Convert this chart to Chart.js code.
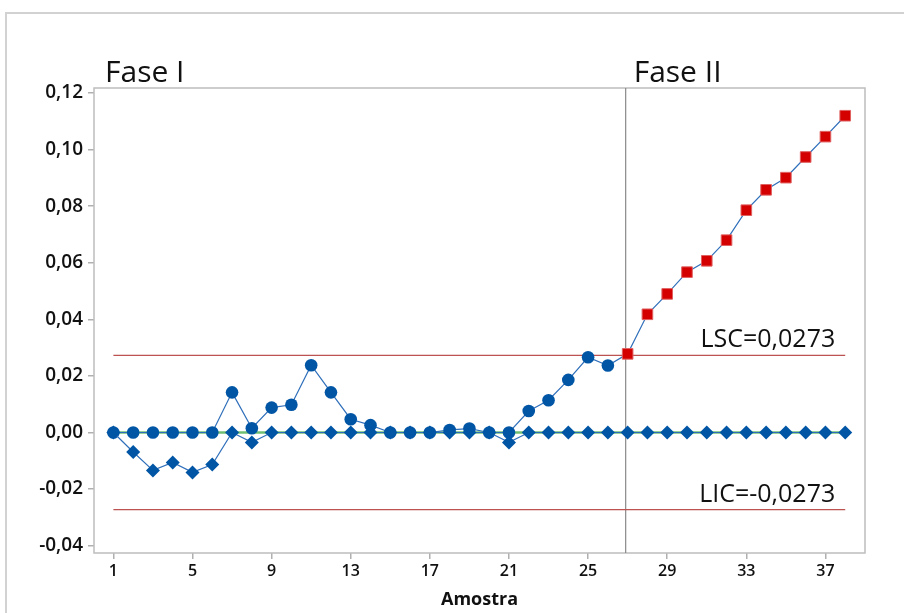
<!DOCTYPE html>
<html>
<head>
<meta charset="utf-8">
<script src="https://cdn.jsdelivr.net/npm/chart.js@4.4.0/dist/chart.umd.min.js"></script>
<style>
    body { margin: 0; background: #fff; }
    #frame { position: absolute; left: 5px; top: 12px; width: 1000px; height: 700px;
             border-left: 2px solid #d2d2d2; border-top: 2px solid #d2d2d2; }
    canvas { position: absolute; left: 0; top: 0; }
</style>
</head>
<body>
<div id="frame"></div>
<canvas id="cusumCanvas" width="904" height="613"></canvas>
<script>
// amostras (eixo x)
const samples = [1, 2, 3, 4, 5, 6, 7, 8, 9, 10, 11, 12, 13, 14, 15, 16, 17, 18, 19, 20,
    21, 22, 23, 24, 25, 26, 27, 28, 29, 30, 31, 32, 33, 34, 35, 36, 37, 38];

// CUSUM superior (C+) e inferior (C-)
const upperCusum = [0, 0, 0, 0, 0, 0, 0.0142, 0.0015, 0.0088, 0.0098, 0.0238, 0.0142, 0.0047, 0.0026,
    0, 0, 0, 0.0009, 0.0014, 0, 0, 0.0076, 0.0114, 0.0186, 0.0266, 0.0237,
    0.0278, 0.0418, 0.0490, 0.0567, 0.0607, 0.0680, 0.0786, 0.0858, 0.0901, 0.0974, 0.1046, 0.1120];
const lowerCusum = [0, -0.0069, -0.0134, -0.0106, -0.0141, -0.0113, 0, -0.0035, 0, 0, 0, 0, 0, 0,
    0, 0, 0, 0, 0, 0, -0.0035, 0, 0, 0, 0, 0,
    0, 0, 0, 0, 0, 0, 0, 0, 0, 0, 0, 0];

const lsc = 0.0273;
const lic = -0.0273;
const phaseTwoStart = 27;
const phaseLineAt = 26.9;

const xTickValues = [1, 5, 9, 13, 17, 21, 25, 29, 33, 37];
const yTickValues = [-0.04, -0.02, 0, 0.02, 0.04, 0.06, 0.08, 0.10, 0.12];

const blue = "#0055a5";
const lineBlue = "#2f6fba";
const red = "#d40000";

const toPoints = (values) => values.map((v, i) => ({ x: samples[i], y: v }));
const first = samples[0];
const last = samples[samples.length - 1];

// moldura da área do gráfico + textos
const annotations = {
    id: "annotations",
    beforeDatasetsDraw(chart) {
        const { ctx, chartArea } = chart;
        ctx.save();
        ctx.strokeStyle = "#bdbdbd";
        ctx.lineWidth = 1.5;
        ctx.strokeRect(chartArea.left, chartArea.top, chartArea.width, chartArea.height);
        ctx.restore();
    },
    afterDatasetsDraw(chart) {
        const { ctx, chartArea, scales: { x, y } } = chart;
        ctx.save();
        ctx.fillStyle = "#111";
        ctx.textBaseline = "alphabetic";
        ctx.textAlign = "left";
        ctx.font = "30px 'Open Sans'";
        ctx.fillText("Fase I", chartArea.left + 11, chartArea.top - 6);
        ctx.fillText("Fase II", x.getPixelForValue(phaseLineAt) + 8, chartArea.top - 6);

        ctx.textAlign = "right";
        ctx.font = "25px 'Open Sans'";
        const labelX = x.getPixelForValue(last) - 10;
        ctx.fillText("LSC=0,0273", labelX, y.getPixelForValue(lsc) - 8);
        ctx.fillText("LIC=-0,0273", labelX, y.getPixelForValue(lic) - 8);
        ctx.restore();
    }
};

const cusumChart = new Chart(document.getElementById("cusumCanvas").getContext("2d"), {
    type: "line",
    data: {
        datasets: [
            {
                label: "C-",
                data: toPoints(lowerCusum),
                borderColor: lineBlue,
                borderWidth: 1.2,
                pointStyle: "rectRot",
                pointRadius: 7,
                pointBackgroundColor: blue,
                pointBorderColor: blue,
                pointBorderWidth: 0,
                order: 1
            },
            {
                label: "C+",
                data: toPoints(upperCusum),
                borderColor: lineBlue,
                borderWidth: 1.2,
                pointStyle: (c) => samples[c.dataIndex] >= phaseTwoStart ? "rect" : "circle",
                pointRadius: (c) => samples[c.dataIndex] >= phaseTwoStart ? 7.5 : 6.3,
                pointBackgroundColor: (c) => samples[c.dataIndex] >= phaseTwoStart ? red : blue,
                pointBorderColor: (c) => samples[c.dataIndex] >= phaseTwoStart ? "#e06060" : blue,
                pointBorderWidth: (c) => samples[c.dataIndex] >= phaseTwoStart ? 1 : 0,
                order: 2
            },
            {
                label: "LC",
                data: [{ x: first, y: 0 }, { x: last, y: 0 }],
                borderColor: "#6fbf73",
                borderWidth: 2.5,
                pointRadius: 0,
                order: 5
            },
            {
                label: "LSC",
                data: [{ x: first, y: lsc }, { x: last, y: lsc }],
                borderColor: "#bd5252",
                borderWidth: 1.3,
                pointRadius: 0,
                order: 4
            },
            {
                label: "LIC",
                data: [{ x: first, y: lic }, { x: last, y: lic }],
                borderColor: "#bd5252",
                borderWidth: 1.3,
                pointRadius: 0,
                order: 4
            },
            {
                label: "Fase",
                data: [{ x: phaseLineAt, y: -0.0426 }, { x: phaseLineAt, y: 0.1218 }],
                borderColor: "#8a8a8a",
                borderWidth: 1.2,
                pointRadius: 0,
                order: 6
            }
        ]
    },
    options: {
        responsive: false,
        animation: false,
        layout: { padding: { top: 88, right: 39, left: 0, bottom: 0 } },
        plugins: {
            legend: { display: false },
            tooltip: { enabled: false }
        },
        elements: { line: { tension: 0 } },
        scales: {
            x: {
                type: "linear",
                min: 0.02,
                max: 39,
                afterBuildTicks: (scale) => { scale.ticks = xTickValues.map((v) => ({ value: v })); },
                afterFit: (scale) => { scale.height = 60; },
                border: { display: false },
                grid: { drawOnChartArea: false, drawTicks: true, tickLength: 6, color: "#b0b0b0", lineWidth: 1.5 },
                ticks: {
                    color: "#111",
                    padding: 3,
                    maxRotation: 0,
                    font: { family: "'Open Sans'", size: 16, weight: "600" }
                },
                title: {
                    display: true,
                    text: "Amostra",
                    color: "#111",
                    padding: { top: 4, bottom: 2 },
                    font: { family: "'Open Sans'", size: 18, weight: "bold" }
                }
            },
            y: {
                min: -0.0426,
                max: 0.1218,
                afterBuildTicks: (scale) => { scale.ticks = yTickValues.map((v) => ({ value: v })); },
                afterFit: (scale) => { scale.width = 94; },
                border: { display: false },
                grid: { drawOnChartArea: false, drawTicks: true, tickLength: 6, color: "#b0b0b0", lineWidth: 1.5 },
                ticks: {
                    color: "#111",
                    padding: 5,
                    callback: (value) => value.toFixed(2).replace(".", ","),
                    font: { family: "'Open Sans'", size: 19, weight: "600" }
                }
            }
        }
    },
    plugins: [annotations]
});
</script>
</body>
</html>
